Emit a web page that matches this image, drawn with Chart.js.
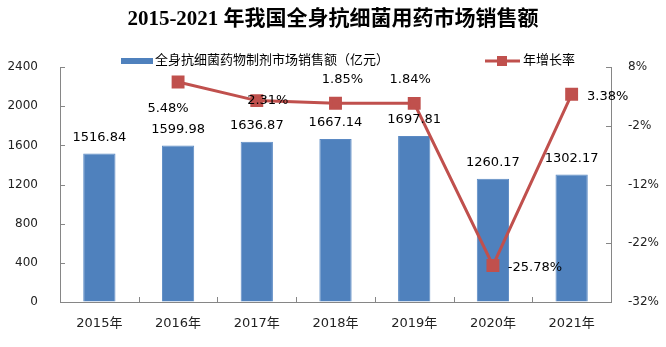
<!DOCTYPE html>
<html>
<head>
<meta charset="utf-8">
<script src="https://cdn.jsdelivr.net/npm/chart.js@4"></script>
<style>
  html, body { margin: 0; padding: 0; background: #fff; }
  #wrap { width: 666px; height: 347px; }
</style>
</head>
<body>
<div id="wrap"><canvas id="salesChart" width="666" height="347"></canvas></div>
<script>
// datos
const years = ['2015年', '2016年', '2017年', '2018年', '2019年', '2020年', '2021年'];
const salesValues = [1516.84, 1599.98, 1636.87, 1667.14, 1697.81, 1260.17, 1302.17];
const growthRates = [null, 5.48, 2.31, 1.85, 1.84, -25.78, 3.38];
const salesLabel = '全身抗细菌药物制剂市场销售额（亿元）';
const growthLabel = '年增长率';
const titleText = '2015-2021 年我国全身抗细菌用药市场销售额';

const BAR_COLOR = '#4F81BD';
const LINE_COLOR = '#C0504D';
const AXIS_COLOR = '#868686';
const FONT = "'DejaVu Sans', 'Noto Sans CJK SC', sans-serif";

// desplazamiento de cada etiqueta de la línea (px), solo estilo
const growthLabelOffsets = [null, [-10, 27], [11, 0], [7, -24], [-4, -24], [42, 2], [36, 2]];

// plugin: etiquetas de datos, leyenda y marcas interiores de los ejes
const extrasPlugin = {
    id: 'extras',
    afterDraw(chart) {
        const ctx = chart.ctx;
        const area = chart.chartArea;
        const x = chart.scales.x;
        const y = chart.scales.y;
        const y1 = chart.scales.y1;

        ctx.save();
        // marcas de los ejes hacia dentro
        ctx.strokeStyle = AXIS_COLOR;
        ctx.lineWidth = 1;
        ctx.beginPath();
        y.ticks.forEach(t => {
            const py = Math.round(y.getPixelForValue(t.value)) + 0.5;
            ctx.moveTo(area.left, py); ctx.lineTo(area.left + 5, py);
        });
        y1.ticks.forEach(t => {
            const py = Math.round(y1.getPixelForValue(t.value)) + 0.5;
            ctx.moveTo(area.right - 5, py); ctx.lineTo(area.right, py);
        });
        for (let i = 0; i <= years.length; i++) {
            const px = Math.round(x.getPixelForValue(i - 0.5)) + 0.5;
            ctx.moveTo(px, area.bottom); ctx.lineTo(px, area.bottom - 5);
        }
        ctx.stroke();

        // etiquetas de las barras
        ctx.fillStyle = '#000';
        ctx.font = '13px ' + FONT;
        ctx.textAlign = 'center';
        ctx.textBaseline = 'middle';
        const barMeta = chart.getDatasetMeta(0);
        barMeta.data.forEach((bar, i) => {
            ctx.fillText(salesValues[i].toFixed(2), bar.x, bar.y - 16);
        });

        // etiquetas de la línea
        const lineMeta = chart.getDatasetMeta(1);
        lineMeta.data.forEach((pt, i) => {
            if (growthRates[i] === null) return;
            const off = growthLabelOffsets[i];
            ctx.fillText(growthRates[i].toFixed(2) + '%', pt.x + off[0], pt.y + off[1]);
        });

        // leyenda
        const ly = 61;
        ctx.fillStyle = BAR_COLOR;
        ctx.fillRect(121, ly - 3, 32, 6);
        ctx.fillStyle = '#000';
        ctx.textAlign = 'left';
        ctx.font = '13px ' + FONT;
        ctx.fillText(salesLabel, 155, ly);

        ctx.strokeStyle = LINE_COLOR;
        ctx.lineWidth = 3;
        ctx.beginPath();
        ctx.moveTo(485, ly); ctx.lineTo(520, ly);
        ctx.stroke();
        ctx.fillStyle = LINE_COLOR;
        ctx.fillRect(497, ly - 5, 10, 10);
        ctx.fillStyle = '#000';
        ctx.fillText(growthLabel, 523, ly);
        ctx.restore();
    }
};

const ctx = document.getElementById('salesChart');
new Chart(ctx, {
    data: {
        labels: years,
        datasets: [
            {
                type: 'bar',
                label: salesLabel,
                data: salesValues,
                backgroundColor: BAR_COLOR,
                borderColor: '#5B8AC4',
                borderWidth: 1,
                categoryPercentage: 0.82,
                barPercentage: 0.5,
                yAxisID: 'y',
                order: 2
            },
            {
                type: 'line',
                label: growthLabel,
                data: growthRates,
                borderColor: LINE_COLOR,
                backgroundColor: LINE_COLOR,
                borderWidth: 3,
                pointStyle: 'rect',
                pointRadius: 7,
                pointHoverRadius: 7,
                tension: 0,
                yAxisID: 'y1',
                order: 1
            }
        ]
    },
    options: {
        responsive: false,
        animation: false,
        layout: { padding: 0 },
        plugins: {
            legend: { display: false },
            tooltip: { enabled: false },
            title: {
                display: true,
                text: titleText,
                color: '#000',
                font: { family: "'Liberation Serif', 'Noto Sans CJK SC', serif", size: 21, weight: 'bold' },
                padding: { top: 7, bottom: 35 }
            }
        },
        scales: {
            x: {
                grid: { drawOnChartArea: false, drawTicks: false },
                border: { color: AXIS_COLOR },
                ticks: { color: '#222', padding: 14, font: { family: FONT, size: 13 } },
                afterFit: s => { s.height = 45; }
            },
            y: {
                position: 'left',
                min: 0,
                max: 2400,
                grid: { drawOnChartArea: false, drawTicks: false },
                border: { color: AXIS_COLOR },
                ticks: {
                    stepSize: 400,
                    color: '#222',
                    padding: 22,
                    font: { family: FONT, size: 12 },
                    callback: v => String(v)
                },
                afterFit: s => { s.width = 60; }
            },
            y1: {
                position: 'right',
                min: -32,
                max: 8,
                grid: { drawOnChartArea: false, drawTicks: false },
                border: { color: AXIS_COLOR },
                ticks: {
                    stepSize: 10,
                    color: '#222',
                    padding: 17,
                    font: { family: FONT, size: 12 },
                    callback: v => v + '%'
                },
                afterFit: s => { s.width = 55; }
            }
        }
    },
    plugins: [extrasPlugin]
});
</script>
</body>
</html>
